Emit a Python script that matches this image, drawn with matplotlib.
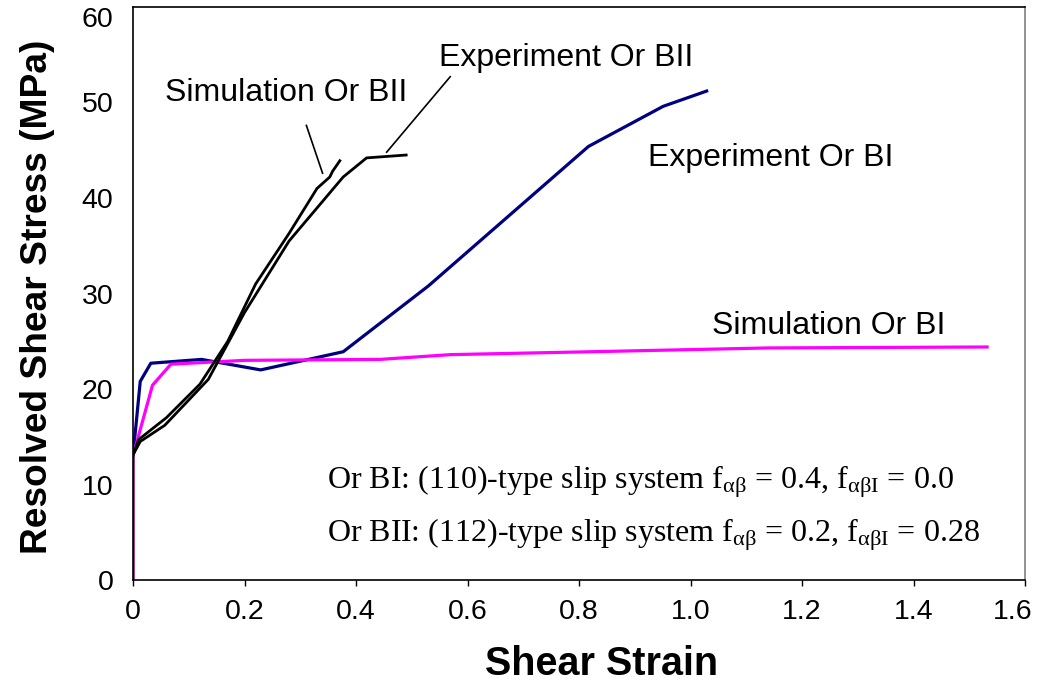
import matplotlib
matplotlib.use("Agg")
import matplotlib.pyplot as plt
import matplotlib.transforms as mtransforms

# Shear strain / resolved shear stress (MPa) data
exp_bi_strain = [0.0, 0.013, 0.032, 0.123, 0.229, 0.377, 0.530, 0.817, 0.951, 1.029]
exp_bi_stress = [13.0, 20.8, 22.7, 23.1, 22.0, 23.9, 30.8, 45.4, 49.6, 51.2]

sim_bi_strain = [0.0, 0.0, 0.035, 0.068, 0.20, 0.443, 0.57, 0.82, 1.14, 1.532]
sim_bi_stress = [0.0, 13.0, 20.4, 22.6, 23.0, 23.1, 23.6, 23.9, 24.3, 24.4]

exp_bii_strain = [0.0, 0.013, 0.057, 0.135, 0.20, 0.28, 0.377, 0.419, 0.490]
exp_bii_stress = [13.1, 14.5, 16.2, 21.0, 28.0, 35.5, 42.2, 44.2, 44.5]

sim_bii_strain = [0.0, 0.0, 0.010, 0.060, 0.12, 0.17, 0.22, 0.28, 0.33, 0.353, 0.358, 0.371]
sim_bii_stress = [0.0, 13.1, 14.7, 17.0, 20.5, 25.0, 31.0, 36.3, 41.0, 42.2, 42.8, 43.9]

x_ticks = [0, 0.2, 0.4, 0.6, 0.8, 1.0, 1.2, 1.4, 1.6]
x_tick_labels = ["0", "0.2", "0.4", "0.6", "0.8", "1.0", "1.2", "1.4", "1.6"]
y_ticks = [0, 10, 20, 30, 40, 50, 60]

plt.rcParams["font.family"] = ["Liberation Sans", "DejaVu Sans"]
plt.rcParams["mathtext.fontset"] = "custom"
plt.rcParams["mathtext.rm"] = "Liberation Serif"
plt.rcParams["mathtext.it"] = "Liberation Serif:italic"

fig = plt.figure(figsize=(10.39, 6.88), dpi=100)
ax = fig.add_axes([133 / 1039, 1 - 580 / 688, (1025 - 133) / 1039, (580 - 7) / 688])

ax.plot(exp_bi_strain, exp_bi_stress, color="#000080", lw=2.3)
ax.plot(sim_bi_strain, sim_bi_stress, color="#FF00FF", lw=2.3)
ax.plot(exp_bii_strain, exp_bii_stress, color="black", lw=2.0)
ax.plot(sim_bii_strain, sim_bii_stress, color="black", lw=2.0)

ax.set_xlim(0, 1.6)
ax.set_ylim(0, 60)
ax.set_xticks(x_ticks)
ax.set_xticklabels(x_tick_labels)
ax.set_yticks(y_ticks)
ax.tick_params(axis="x", direction="out", length=4, width=1, labelsize=20.5, pad=10)
ax.tick_params(axis="y", length=0, labelsize=20.5, pad=14)

# keep the end labels inside the canvas
last_x = ax.get_xticklabels()[-1]
last_x.set_transform(last_x.get_transform()
                     + mtransforms.ScaledTranslation(-12 / 100, 0, fig.dpi_scale_trans))
top_y = ax.get_yticklabels()[-1]
top_y.set_transform(top_y.get_transform()
                    + mtransforms.ScaledTranslation(0, -10 / 100, fig.dpi_scale_trans))

for side in ["left", "bottom", "top"]:
    ax.spines[side].set_color("black")
    ax.spines[side].set_linewidth(1.2)
ax.spines["right"].set_color("#808080")
ax.spines["right"].set_linewidth(1.2)

ax.set_xlabel("Shear Strain", fontsize=28.5, fontweight="bold")
ax.set_ylabel("Resolved Shear Stress (MPa)", fontsize=26.7, fontweight="bold")
ax.xaxis.set_label_coords(0.525, -0.113)
ax.yaxis.set_label_coords(-0.0875, 0.494)

# Curve labels with leader lines
lab_kw = dict(fontsize=23, ha="center", va="center")
ax.text(0.274, 51.0, "Simulation Or BII", **lab_kw)
ax.text(0.777, 54.7, "Experiment Or BII", **lab_kw)
ax.text(1.143, 44.2, "Experiment Or BI", **lab_kw)
ax.text(1.247, 26.6, "Simulation Or BI", **lab_kw)
ax.plot([0.311, 0.340], [47.6, 42.6], color="black", lw=1.2)
ax.plot([0.569, 0.455], [52.7, 44.8], color="black", lw=1.2)

# Slip-system parameters
note_kw = dict(fontsize=23, ha="left", va="center", family="Liberation Serif")
ax.text(0.348, 10.3,
        r"Or BI: (110)-type slip system f$_{\mathrm{αβ}}$ = 0.4, f$_{\mathrm{αβI}}$ = 0.0",
        **note_kw)
ax.text(0.348, 4.7,
        r"Or BII: (112)-type slip system f$_{\mathrm{αβ}}$ = 0.2, f$_{\mathrm{αβI}}$ = 0.28",
        **note_kw)

fig.savefig("out.png", dpi=100)
